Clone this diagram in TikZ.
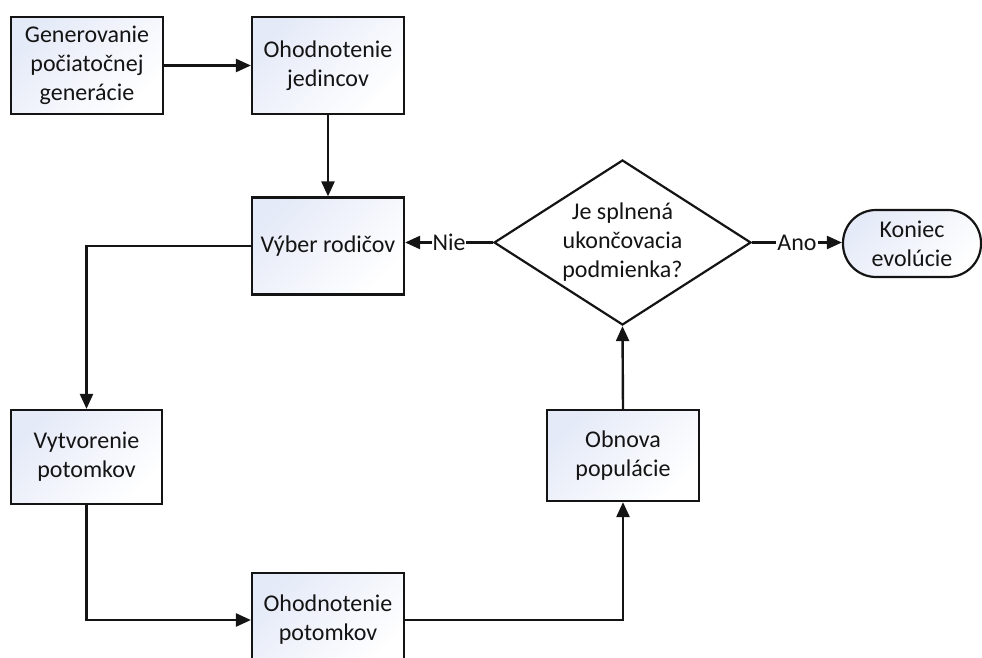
\documentclass[tikz,border=0pt]{standalone}
\usepackage{fontspec}
\setmainfont{Carlito}
\usetikzlibrary{arrows.meta,shapes.geometric}
\definecolor{boxtint}{RGB}{229,234,248}
\definecolor{ink}{RGB}{20,20,20}
\begin{document}
\begin{tikzpicture}[x=1pt,y=-1pt,
  every node/.style={font=\fontsize{24}{29}\selectfont, align=center, text=ink},
  stepbox/.style={draw=ink, line width=2.2pt, inner sep=0pt,
    shading=axis, top color=boxtint, bottom color=white, shading angle=45},
  decision/.style={draw=ink, line width=2.2pt, diamond, fill=white, inner sep=0pt},
  terminal/.style={stepbox, rounded corners=33pt},
  flow/.style={draw=ink, line width=2.4pt, -{Triangle[length=15pt,width=13pt]}},
  tag/.style={fill=white, inner sep=1pt}]
\useasboundingbox (0,0) rectangle (982,658);

% process steps
\node[stepbox, minimum width=152pt, minimum height=97pt] (gen) at (87,65.5)
  {Generovanie\\počiatočnej\\generácie};
\node[stepbox, minimum width=152pt, minimum height=97pt] (ohj) at (328,65.5)
  {Ohodnotenie\\jedincov};
\node[stepbox, minimum width=152pt, minimum height=97pt] (vyb) at (328,246)
  {Výber rodičov};
\node[stepbox, minimum width=151pt, minimum height=94pt] (vyt) at (86.5,457)
  {Vytvorenie\\potomkov};
\node[stepbox, minimum width=152pt, minimum height=94pt] (ohp) at (328,620)
  {Ohodnotenie\\potomkov};
\node[stepbox, minimum width=152pt, minimum height=91pt] (obn) at (623,455.5)
  {Obnova\\populácie};

% decision and end
\node[decision, minimum width=257pt, minimum height=165pt,
  label={[align=center]center:Je splnená\\ukončovacia\\podmienka?}] (dec) at (622.5,242.5) {};
\node[terminal, minimum width=138pt, minimum height=67pt] (end) at (912,243.5)
  {Koniec\\evolúcie};

% connectors
\draw[flow] (gen) -- (ohj);
\draw[flow] (ohj) -- (vyb);
\draw[flow] (vyb.west) -| (vyt.north);
\draw[flow] (vyt.south) |- (ohp.west);
\draw[flow] (ohp.east) -| (obn.south);
\draw[flow] (obn.north) -- (dec.south);
\draw[flow] (dec.west) -- node[tag] {Nie} (vyb.east |- dec.west);
\draw[flow] (dec.east) -- node[tag] {Ano} (end.west |- dec.east);
\end{tikzpicture}
\end{document}
